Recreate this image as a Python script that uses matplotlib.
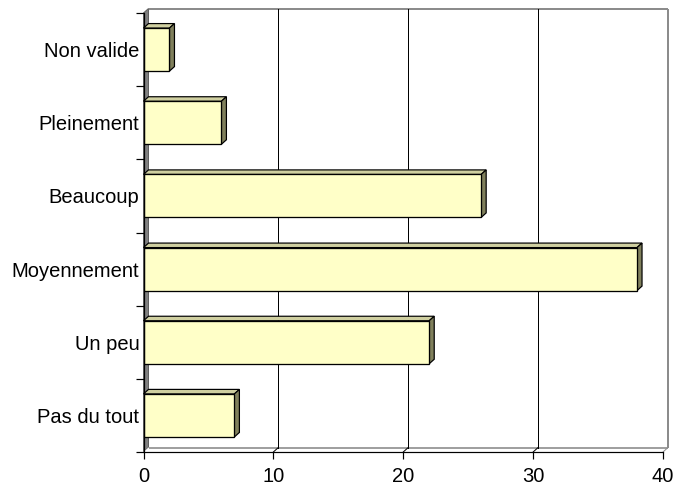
import matplotlib
matplotlib.use("Agg")
import matplotlib.pyplot as plt
from matplotlib.patches import Polygon

plt.rcParams["font.family"] = ["Liberation Sans", "DejaVu Sans"]

categories = ["Pas du tout", "Un peu", "Moyennement", "Beaucoup", "Pleinement", "Non valide"]
values = [7, 22, 38, 26, 6, 2]
x_ticks = [0, 10, 20, 30, 40]

W, H, DPI = 678, 496, 100
fig = plt.figure(figsize=(W / DPI, H / DPI), dpi=DPI)
L, R, T, B = 143.5, 663, 13, 452
ax = fig.add_axes([L / W, 1 - B / H, (R - L) / W, (B - T) / H])
xmax = x_ticks[-1]
n = len(categories)
ax.set_xlim(0, xmax)
ax.set_ylim(0, n)

# depth of the pseudo-3D effect, converted from pixels to data units
dpx, dpy = 5, 4.5
ddx = dpx * xmax / (R - L)
ddy = dpy * n / (B - T)

PX = 72 / DPI  # one pixel in points

# side wall
ax.add_patch(Polygon([(0, 0), (0, n), (ddx, n + ddy), (ddx, ddy)],
                     closed=True, fc="#808080", ec="#606060", lw=PX,
                     clip_on=False, zorder=1))
# floor
ax.add_patch(Polygon([(0, 0), (xmax, 0), (xmax + ddx, ddy), (ddx, ddy)],
                     closed=True, fc="white", ec="none", clip_on=False, zorder=1))
ax.plot([ddx, xmax + ddx], [ddy, ddy], color="#a0a0a0", lw=2 * PX,
        clip_on=False, zorder=2, solid_capstyle="butt")
# back wall frame
ax.plot([ddx, xmax + ddx], [n + ddy, n + ddy], color="#8c8c8c", lw=2 * PX,
        clip_on=False, zorder=2, solid_capstyle="butt")
ax.plot([xmax + ddx, xmax + ddx], [ddy, n + ddy], color="#8c8c8c", lw=2 * PX,
        clip_on=False, zorder=2, solid_capstyle="butt")
ax.plot([xmax, xmax + ddx], [0, ddy], color="#8c8c8c", lw=PX,
        clip_on=False, zorder=2)

# gridlines on the back wall and across the floor
for xv in x_ticks[1:-1]:
    ax.plot([xv + ddx, xv + ddx], [ddy, n + ddy], color="black", lw=PX,
            clip_on=False, zorder=2)
    ax.plot([xv, xv + ddx], [0, ddy], color="black", lw=PX,
            clip_on=False, zorder=2)

# bars
ypos = [i + 0.5 for i in range(n)]
h = 0.588
face, top, side = "#FFFFC8", "#CFCFA0", "#80805C"
ax.barh(ypos, values, height=h, left=0, color=face, edgecolor="black",
        linewidth=PX * 1.3, zorder=4)
for y, v in zip(ypos, values):
    yt = y + h / 2
    yb = y - h / 2
    ax.add_patch(Polygon([(0, yt), (v, yt), (v + ddx, yt + ddy), (ddx, yt + ddy)],
                         closed=True, fc=top, ec="black", lw=PX * 1.2, zorder=3,
                         clip_on=False))
    ax.add_patch(Polygon([(v, yb), (v, yt), (v + ddx, yt + ddy), (v + ddx, yb + ddy)],
                         closed=True, fc=side, ec="black", lw=PX * 1.2, zorder=3,
                         clip_on=False))

# axes lines and ticks
for s in ("top", "right"):
    ax.spines[s].set_visible(False)
for s in ("left", "bottom"):
    ax.spines[s].set_color("black")
    ax.spines[s].set_linewidth(1.2 * PX)
    ax.spines[s].set_zorder(5)

ax.set_xticks(x_ticks)
ax.set_xticklabels([str(t) for t in x_ticks], fontsize=14.5)
ax.tick_params(axis="x", direction="out", length=7 * PX, width=1.2 * PX, pad=6)

ax.set_yticks(range(n + 1))
ax.set_yticklabels([])
ax.tick_params(axis="y", which="major", direction="out", length=8 * PX, width=1.2 * PX)
ax.set_yticks(ypos, minor=True)
ax.set_yticklabels(categories, minor=True, fontsize=14.5)
ax.tick_params(axis="y", which="minor", length=0, pad=3)

fig.savefig("out.png", dpi=DPI)
